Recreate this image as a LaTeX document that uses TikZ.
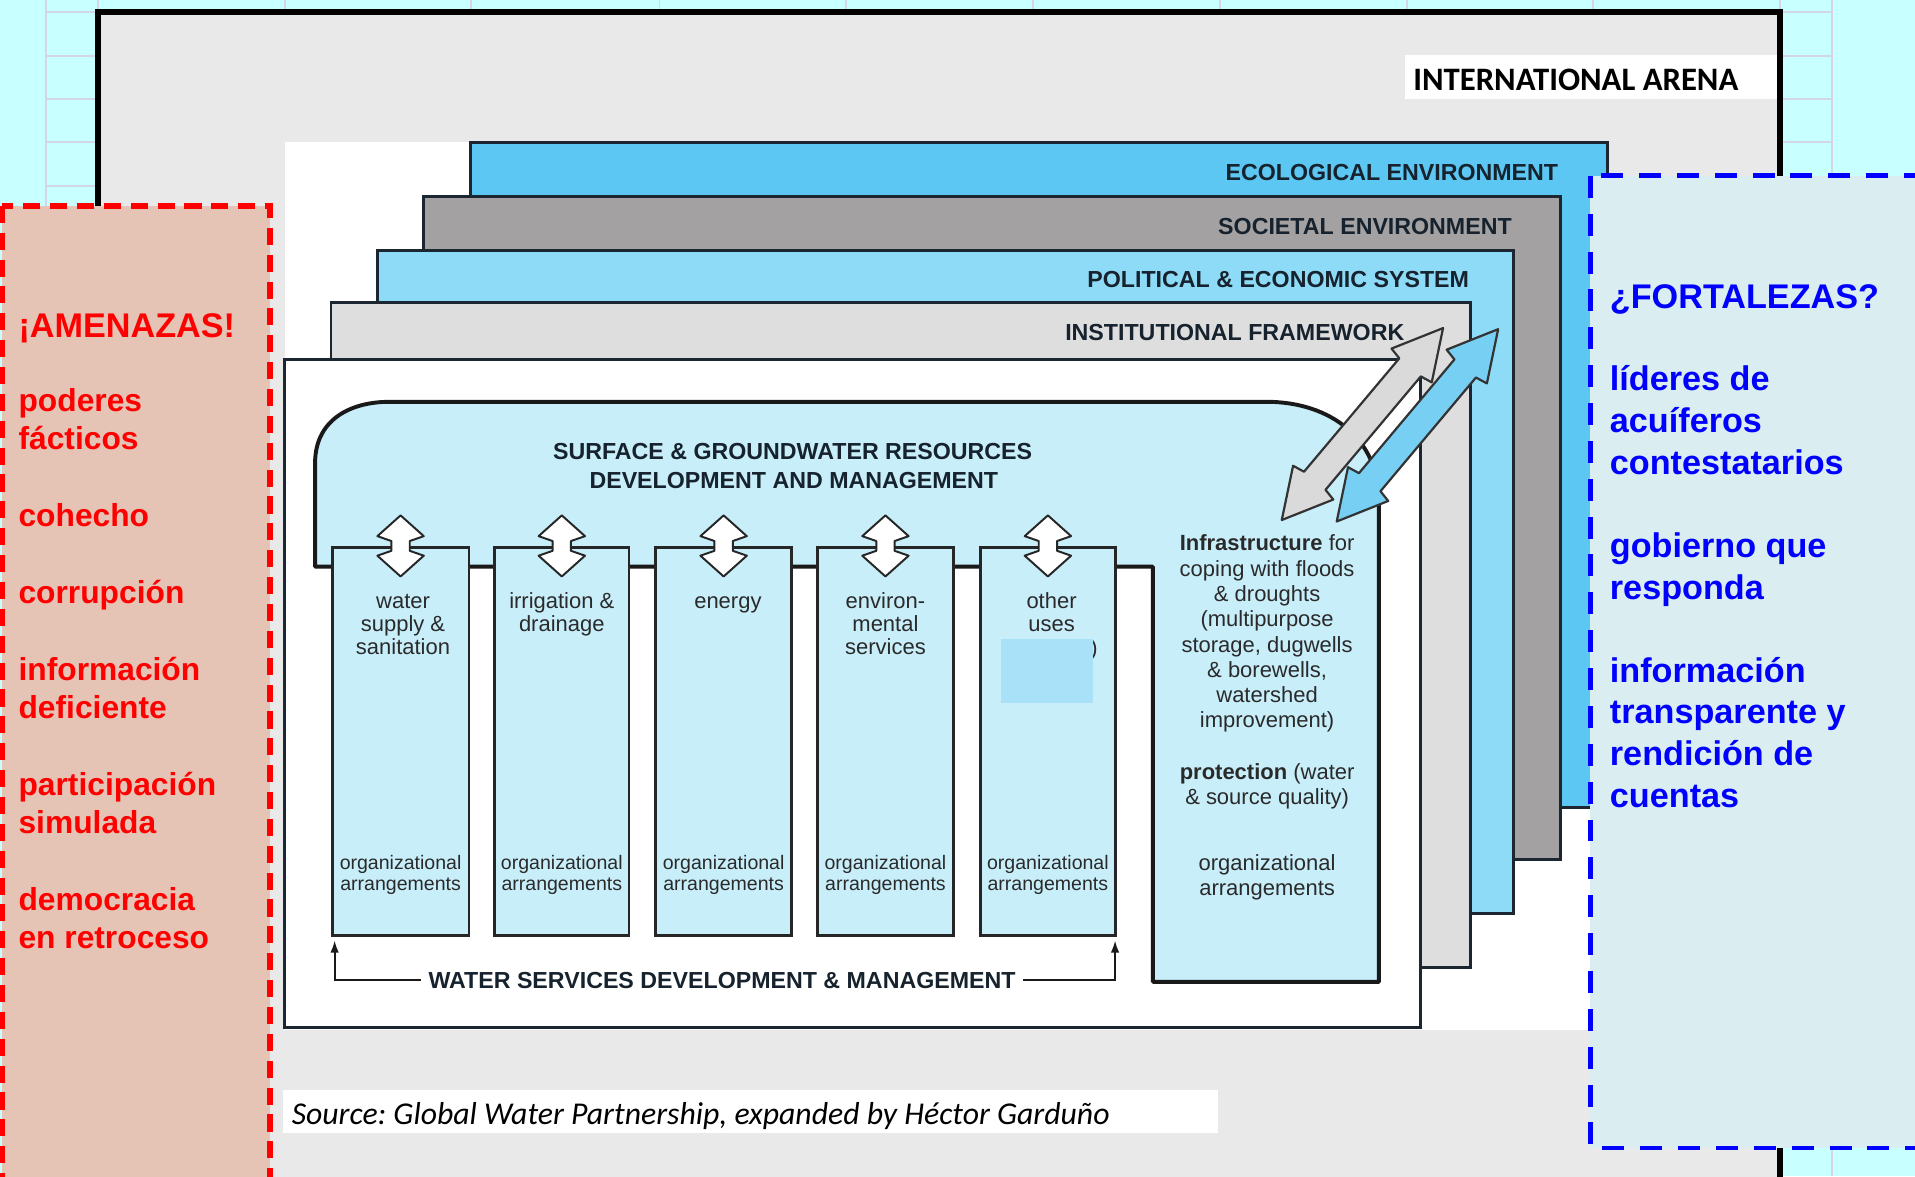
\documentclass[tikz,border=0pt]{standalone}
\usepackage{fontspec}
\setmainfont{Liberation Sans}
\newfontfamily\calfont{Carlito}
\usetikzlibrary{arrows.meta}
\frenchspacing
\definecolor{bgcyan}{HTML}{C8FFFF}
\definecolor{gridc}{HTML}{D2D6E6}
\definecolor{framefill}{HTML}{E9E9E9}
\definecolor{redfill}{HTML}{E5C3B5}
\definecolor{bluefill}{HTML}{DAEDF0}
\definecolor{ecol}{HTML}{5CC7F3}
\definecolor{soc}{HTML}{A3A1A1}
\definecolor{pol}{HTML}{8EDBF7}
\definecolor{inst}{HTML}{DEDEDE}
\definecolor{regfill}{HTML}{C8EEFA}
\definecolor{patchc}{HTML}{A9E2F8}
\definecolor{darr}{HTML}{78CFF4}
\definecolor{garr}{HTML}{DADADA}
\definecolor{txt}{HTML}{2A2A2A}
\definecolor{navytxt}{HTML}{16222D}
\definecolor{outl}{HTML}{1B2631}
\tikzset{
  panel/.style={draw=outl, line width=2.4},
  plabel/.style={font=\fontsize{19}{21}\bfseries\selectfont, text=navytxt, inner sep=0, anchor=base east},
  clabel/.style={font=\fontsize{18}{19}\selectfont, text=txt, inner sep=0, anchor=base},
  olabel/.style={font=\fontsize{16}{17}\selectfont, text=txt, inner sep=0, anchor=base},
  redtxt/.style={font=\fontsize{26}{31}\bfseries\selectfont, text=red, inner sep=0, anchor=base west},
  bluetxt/.style={font=\fontsize{28}{34}\bfseries\selectfont, text=blue, inner sep=0, anchor=base west},
  colbox/.style={draw=black!85, line width=2.4, fill=regfill},
  varrow/.style={draw=black!85, line width=1.6, fill=white, line join=round},
  darrow/.style={draw=black!80, line width=1.8, line join=round},
  bracket/.style={draw=black!90, line width=1.6, -{Latex[length=10,width=7]}},
}
\begin{document}
\begin{tikzpicture}[x=1pt,y=-1pt]
\useasboundingbox (0,0) rectangle (1568,963);
\clip (0,0) rectangle (1568,963);
% background sheet with grid
\fill[bgcyan] (0,0) rectangle (1568,963);
\foreach \gx in {37.7,80,233,386,540,693,846,999,1152,1304,1457.5,1500}
  \draw[gridc, line width=1.6] (\gx,0) -- (\gx,963);
\foreach \k in {0,...,26}
  \draw[gridc, line width=1.6] (37.7,{10+35.5*\k}) -- (1500,{10+35.5*\k});
% international arena frame
\draw[line width=5, fill=framefill] (80,10) rectangle (1457.5,1000);
\fill[white] (1150,45) rectangle (1455,81);
\node[font=\calfont\fontsize{26.8}{28}\bfseries\selectfont, inner sep=0, anchor=base west] (arena) at (1157,73.7) {INTERNATIONAL ARENA};
% diagram background
\fill[white] (233,116) rectangle (1316,843);
% nested panels
\draw[panel, fill=ecol] (385,117) rectangle (1316,661);
\draw[panel, fill=soc] (347,161) rectangle (1278,704);
\draw[panel, fill=pol] (309,205) rectangle (1239,748);
\draw[panel, fill=inst] (271,248) rectangle (1204,792);
\draw[panel, fill=white] (233,294) rectangle (1163,841);
\node[plabel] (leco) at (1276,148) {ECOLOGICAL ENVIRONMENT};
\node[plabel] (lsoc) at (1238,192) {SOCIETAL ENVIRONMENT};
\node[plabel] (lpol) at (1203,235) {POLITICAL \& ECONOMIC SYSTEM};
\node[plabel] (linst) at (1150,279) {INSTITUTIONAL FRAMEWORK};
% resources region
\draw[line width=3.2, draw=black!90, fill=regfill, line join=round]
  (258,464) -- (258,379) .. controls (258,345) and (285,329) .. (319,329)
  -- (1037,329) .. controls (1090,329) and (1129,360) .. (1129,409)
  -- (1129,804) -- (944,804) -- (944,464) -- cycle;
\node[font=\fontsize{19}{21}\bfseries\selectfont, text=navytxt, inner sep=0, anchor=base] (sgw1) at (649,376.6) {SURFACE \& GROUNDWATER RESOURCES};
\node[font=\fontsize{19}{21}\bfseries\selectfont, text=navytxt, inner sep=0, anchor=base] (sgw2) at (650,400) {DEVELOPMENT AND MANAGEMENT};
% columns
\foreach \a/\b in {272/384, 404.6/515, 537/648, 669.5/781, 803/913}
  \draw[colbox] (\a,448) rectangle (\b,766);
% vertical double arrows
\foreach \cx in {328,460,592.5,725,858}
  \draw[varrow] (\cx,422) -- ({\cx+19},439) -- ({\cx+7.5},443) -- ({\cx+7.5},451) -- ({\cx+19},455)
    -- (\cx,472) -- ({\cx-19},455) -- ({\cx-7.5},451) -- ({\cx-7.5},443) -- ({\cx-19},439) -- cycle;
% column texts
\node[clabel] (w1) at (330,498) {water};
\node[clabel] (w2) at (330,517) {supply \&};
\node[clabel] (w3) at (330,536) {sanitation};
\node[clabel] (i1) at (460,498) {irrigation \&};
\node[clabel] (i2) at (460,517) {drainage};
\node[clabel] (e1) at (596,498) {energy};
\node[clabel] (v1) at (725,498) {environ-};
\node[clabel] (v2) at (725,517) {mental};
\node[clabel] (v3) at (725,536) {services};
\node[clabel] (o1) at (861,498) {other};
\node[clabel] (o2) at (861,517) {uses};
\node[clabel, anchor=base east] (ob) at (899,537) {)};
\fill[patchc] (820,523) rectangle (895,576);
\foreach \cx/\n in {328/1,460/2,592.5/3,725/4,858/5}{
  \node[olabel] (org\n) at (\cx,712) {organizational};
  \node[olabel] (arr\n) at (\cx,729) {arrangements};
}
% infrastructure texts
\node[clabel] (f1) at (1037.5,451) {\textbf{Infrastructure} for};
\node[clabel] (f2) at (1037.5,472) {coping with floods};
\node[clabel] (f3) at (1037.5,492.5) {\& droughts};
\node[clabel] (f4) at (1037.5,513) {(multipurpose};
\node[clabel] (f5) at (1037.5,534) {storage, dugwells};
\node[clabel] (f6) at (1037.5,554.5) {\& borewells,};
\node[clabel] (f7) at (1037.5,575) {watershed};
\node[clabel] (f8) at (1037.5,596) {improvement)};
\node[clabel] (p1) at (1037.5,638) {\textbf{protection} (water};
\node[clabel] (p2) at (1037.5,658.5) {\& source quality)};
\node[clabel] (fo1) at (1037.5,712.5) {organizational};
\node[clabel] (fo2) at (1037.5,733.5) {arrangements};
% diagonal double arrows
\begin{scope}[shift={(1049.5,425.8)}, rotate=49.96]
  \draw[darrow, fill=garr] (0,0) -- (40,21.5) -- (42,11.5) -- (163.3,11.5) -- (165.3,21.5) -- (205.3,0)
    -- (165.3,-21.5) -- (163.3,-11.5) -- (42,-11.5) -- (40,-21.5) -- cycle;
\end{scope}
\begin{scope}[shift={(1094.5,427)}, rotate=49.99]
  \draw[darrow, fill=darr] (0,0) -- (40,21.5) -- (42,11.5) -- (163.6,11.5) -- (165.6,21.5) -- (205.6,0)
    -- (165.6,-21.5) -- (163.6,-11.5) -- (42,-11.5) -- (40,-21.5) -- cycle;
\end{scope}
% water services bracket
\node[font=\fontsize{19}{21}\bfseries\selectfont, text=navytxt, inner sep=0, inner xsep=6, text depth=0] (ws) at (591.2,802.5) {WATER SERVICES DEVELOPMENT \& MANAGEMENT};
\coordinate (wsl) at (274,802.5);
\coordinate (wslt) at (274,770);
\coordinate (wsr) at (913,802.5);
\coordinate (wsrt) at (913,770);
\draw[bracket] (ws.west) -- (wsl) -- (wslt);
\draw[bracket] (ws.east) -- (wsr) -- (wsrt);
% caption
\fill[white] (232,892.5) rectangle (997,928);
\node[font=\calfont\fontsize{26}{28}\itshape\selectfont, inner sep=0, anchor=base west] (src) at (238.7,921) {Source: Global Water Partnership, expanded by Héctor Garduño};
% threats box
\draw[red, line width=4.5, dash pattern=on 14 off 8, fill=redfill] (2,168.5) rectangle (221,1010);
\node[font=\fontsize{28}{31}\bfseries\selectfont, text=red, inner sep=0, anchor=base west] (am) at (15,276) {¡AMENAZAS!};
\node[redtxt] (r1) at (15,337) {poderes};
\node[redtxt] (r2) at (15,368.4) {fácticos};
\node[redtxt] (r3) at (15,431.2) {cohecho};
\node[redtxt] (r4) at (15,494) {corrupción};
\node[redtxt] (r5) at (15,556.8) {información};
\node[redtxt] (r6) at (15,588.2) {deficiente};
\node[redtxt] (r7) at (15,651) {participación};
\node[redtxt] (r8) at (15,682.4) {simulada};
\node[redtxt] (r9) at (15,745.2) {democracia};
\node[redtxt] (r10) at (15,776.6) {en retroceso};
% strengths box
\draw[blue, line width=4, dash pattern=on 18 off 13, fill=bluefill] (1302,144) rectangle (1620,940);
\node[bluetxt] (fo) at (1318,253) {¿FORTALEZAS?};
\node[bluetxt] (b1) at (1318,320) {líderes de};
\node[bluetxt] (b2) at (1318,354.1) {acuíferos};
\node[bluetxt] (b3) at (1318,388.2) {contestatarios};
\node[bluetxt] (b4) at (1318,456.4) {gobierno que};
\node[bluetxt] (b5) at (1318,490.5) {responda};
\node[bluetxt] (b6) at (1318,558.7) {información};
\node[bluetxt] (b7) at (1318,592.8) {transparente y};
\node[bluetxt] (b8) at (1318,626.9) {rendición de};
\node[bluetxt] (b9) at (1318,661) {cuentas};
\end{tikzpicture}
\end{document}
